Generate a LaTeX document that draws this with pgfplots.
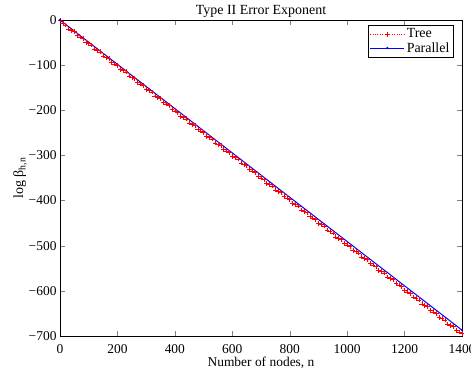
\documentclass[border=0pt]{standalone}
\usepackage{fontspec}
\setmainfont{Liberation Serif}
\usepackage{pgfplots}
\pgfplotsset{compat=1.18}
\usetikzlibrary{calc}
\begin{document}
\begin{tikzpicture}
\begin{axis}[
  scale only axis,
  width=402bp, height=316bp,
  xmin=0, xmax=1400, ymin=-700, ymax=0,
  xtick={0,200,...,1400}, ytick={-700,-600,...,0},
  xticklabels={0,200,400,600,800,1000,1200,1400},
  yticklabels={−700,−600,−500,−400,−300,−200,−100,0},
  tick align=inside, tick pos=both,
  major tick length=5bp,
  ticklabel style={font=\fontsize{13.5}{15}\selectfont},
  xticklabel style={anchor=base, yshift=-18bp, inner ysep=0pt},
  title={Type II Error Exponent},
  title style={font=\fontsize{14}{16}\selectfont, yshift=-7bp},
  xlabel={Number of nodes, n},
  xlabel style={font=\fontsize{13.5}{15}\selectfont, at={(axis description cs:0.5,0)}, anchor=base, yshift=-31bp, inner ysep=0pt},
  ylabel={log β\textsubscript{h,n}},
  ylabel style={font=\fontsize{14}{16}\selectfont, yshift=-5bp},
  legend style={at={(0.978,0.984)}, anchor=north east, font=\fontsize{14}{16}\selectfont, draw=black, line width=0.6pt, inner sep=1.5pt, row sep=-1pt},
  legend image code/.code={\draw[mark repeat=2, mark phase=2, #1] plot coordinates {(0bp,0bp) (17bp,0bp) (34bp,0bp)};},
  legend cell align=left,
  axis line style={line width=0.7pt},
]
\addplot[red, dotted, line width=0.4pt, mark=+, mark size=2.4bp, mark options={solid, line width=0.5pt}] coordinates {
(0,0)(10,-8)(20,-11)
(30,-19.85)(40,-22.85)(50,-25.85)
(60,-34.7)(70,-37.7)(80,-40.7)
(90,-49.55)(100,-52.55)(110,-55.55)
(120,-64.4)(130,-67.4)(140,-70.4)
(150,-79.25)(160,-82.25)(170,-85.25)
(180,-94.1)(190,-97.1)(200,-100.1)
(210,-108.95)(220,-111.95)(230,-114.95)
(240,-123.8)(250,-126.8)(260,-129.8)
(270,-138.65)(280,-141.65)(290,-144.65)
(300,-153.5)(310,-156.5)(320,-159.5)
(330,-168.35)(340,-171.35)(350,-174.35)
(360,-183.2)(370,-186.2)(380,-189.2)
(390,-198.05)(400,-201.05)(410,-204.05)
(420,-212.9)(430,-215.9)(440,-218.9)
(450,-227.75)(460,-230.75)(470,-233.75)
(480,-242.6)(490,-245.6)(500,-248.6)
(510,-257.45)(520,-260.45)(530,-263.45)
(540,-272.3)(550,-275.3)(560,-278.3)
(570,-287.15)(580,-290.15)(590,-293.15)
(600,-302)(610,-305)(620,-308)
(630,-316.85)(640,-319.85)(650,-322.85)
(660,-331.7)(670,-334.7)(680,-337.7)
(690,-346.55)(700,-349.55)(710,-352.55)
(720,-361.4)(730,-364.4)(740,-367.4)
(750,-376.25)(760,-379.25)(770,-382.25)
(780,-391.1)(790,-394.1)(800,-397.1)
(810,-405.95)(820,-408.95)(830,-411.95)
(840,-420.8)(850,-423.8)(860,-426.8)
(870,-435.65)(880,-438.65)(890,-441.65)
(900,-450.5)(910,-453.5)(920,-456.5)
(930,-465.35)(940,-468.35)(950,-471.35)
(960,-480.2)(970,-483.2)(980,-486.2)
(990,-495.05)(1000,-498.05)(1010,-501.05)
(1020,-509.9)(1030,-512.9)(1040,-515.9)
(1050,-524.75)(1060,-527.75)(1070,-530.75)
(1080,-539.6)(1090,-542.6)(1100,-545.6)
(1110,-554.45)(1120,-557.45)(1130,-560.45)
(1140,-569.3)(1150,-572.3)(1160,-575.3)
(1170,-584.15)(1180,-587.15)(1190,-590.15)
(1200,-599)(1210,-602)(1220,-605)
(1230,-613.85)(1240,-616.85)(1250,-619.85)
(1260,-628.7)(1270,-631.7)(1280,-634.7)
(1290,-643.55)(1300,-646.55)(1310,-649.55)
(1320,-658.4)(1330,-661.4)(1340,-664.4)
(1350,-673.25)(1360,-676.25)(1370,-679.25)
(1380,-688.1)(1390,-691.1)(1400,-694.1)
};
\addlegendentry{Tree}
\addplot[blue, line width=1pt, mark=*, mark size=0.6bp] coordinates {
(0,0)(1400,-687)
};
\addlegendentry{Parallel}
\end{axis}
\pgfresetboundingbox
\useasboundingbox ($(current axis.south west)+(-60bp,-36bp)$) rectangle ($(current axis.north east)+(9bp,20bp)$);
\end{tikzpicture}
\end{document}
